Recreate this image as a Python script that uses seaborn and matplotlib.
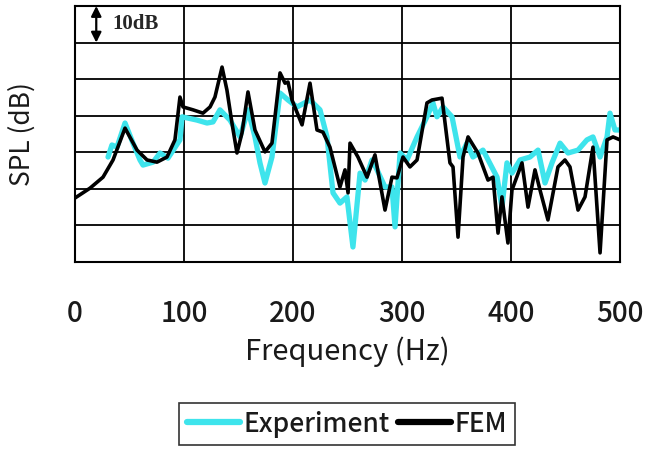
import matplotlib
matplotlib.use("Agg")
import matplotlib.pyplot as plt
import seaborn as sns
import pandas as pd

# Sound pressure level spectra (frequency in Hz, level in dB relative units)
fem_freq = [0, 13.8, 25.7, 34.9, 45.9, 56.9, 66.1, 75.2, 84.4, 91.7, 96.3, 99.1,
            108.3, 117.4, 123.9, 128.4, 134.9, 139.4, 144.0, 148.6, 153.2, 158.7,
            165.1, 174.3, 180.7, 188.1, 192.7, 195.4, 199.1, 208.3, 215.6, 222.0,
            227.5, 233.9, 243.1, 247.7, 250.5, 252.3, 259.6, 267.9, 275.2, 284.4,
            290.8, 295.4, 300.9, 307.3, 313.8, 322.9, 327.5, 336.7, 344.0, 346.8,
            351.4, 356.0, 360.6, 369.7, 378.9, 383.5, 388.1, 391.7, 397.2, 400.9,
            410.1, 415.6, 422.0, 426.6, 433.9, 443.1, 449.5, 454.1, 461.5, 467.9,
            475.2, 481.7, 488.1, 493.6, 500.0]
fem_spl = [17.5, 20.2, 23.2, 27.9, 36.6, 30.6, 27.9, 27.3, 28.7, 33.4, 45.1, 42.4,
           41.6, 40.7, 42.4, 45.1, 53.3, 47.0, 38.0, 29.8, 35.3, 46.5,
           36.1, 30.1, 32.5, 51.7, 48.9, 49.2, 44.3, 37.5, 48.9, 36.1,
           35.5, 31.4, 20.5, 25.2, 18.9, 32.5, 28.7, 23.2, 29.3, 14.2,
           23.2, 23.0, 28.7, 26.0, 27.9, 43.5, 44.3, 44.8, 27.1, 26.0,
           6.8, 28.7, 34.2, 29.8, 22.4, 23.2, 7.9, 17.8, 5.2, 19.7,
           27.1, 15.0, 25.2, 19.7, 11.5, 26.0, 27.9, 26.0, 14.2, 17.8,
           31.4, 2.5, 33.4, 34.2, 33.4]

exp_freq = [30.3, 33.9, 38.5, 45.9, 53.2, 59.6, 62.4, 71.6, 78.0, 85.3, 96.3, 98.2,
            102.8, 111.9, 121.1, 126.6, 133.0, 142.2, 151.4, 158.7, 165.1, 169.7,
            174.3, 180.7, 188.1, 195.4, 203.7, 215.6, 224.8, 231.2, 236.7, 243.1,
            249.5, 255.0, 261.5, 266.1, 272.5, 277.1, 284.4, 290.8, 293.6, 298.2,
            304.6, 313.8, 322.9, 328.4, 332.1, 337.6, 345.9, 353.2, 359.6, 365.1,
            374.3, 387.2, 391.7, 396.3, 400.9, 408.3, 417.4, 424.8, 431.2, 437.6,
            445.0, 452.3, 461.5, 469.7, 475.2, 481.7, 488.1, 490.8, 495.4, 500.0]
exp_spl = [28.7, 32.0, 31.4, 38.0, 32.5, 27.9, 26.5, 27.3, 29.8, 28.4, 33.4, 39.7,
           39.4, 38.8, 38.0, 38.3, 41.6, 38.8, 34.2, 41.6, 34.2, 27.1,
           21.6, 28.7, 46.2, 44.3, 42.4, 44.3, 41.6, 34.2, 18.9, 16.1,
           17.8, 4.1, 24.3, 22.4, 27.9, 25.2, 20.5, 20.5, 9.6, 29.8,
           27.9, 34.2, 39.7, 43.5, 39.7, 42.4, 39.7, 28.7, 32.5, 28.7,
           30.6, 23.2, 15.0, 27.1, 24.3, 27.9, 28.7, 30.6, 21.6, 27.1,
           32.5, 29.8, 30.6, 33.4, 34.2, 28.7, 34.2, 40.7, 36.1, 36.1]

x_ticks = [0, 100, 200, 300, 400, 500]
y_grid = [0, 10, 20, 30, 40, 50, 60, 70]

exp_df = pd.DataFrame({"Frequency": exp_freq, "SPL": exp_spl})
fem_df = pd.DataFrame({"Frequency": fem_freq, "SPL": fem_spl})

sns.set_style("white")
plt.rcParams["font.family"] = ["Noto Sans CJK JP", "DejaVu Sans"]
plt.rcParams["font.weight"] = "medium"

fig = plt.figure(figsize=(6.46, 4.5), dpi=100)
ax = fig.add_axes([75 / 646, 1 - 262 / 450, 545 / 646, 256 / 450])

sns.lineplot(data=exp_df, x="Frequency", y="SPL", ax=ax, color="#3ee4ec",
             linewidth=3.8, sort=False, estimator=None, label="Experiment")
sns.lineplot(data=fem_df, x="Frequency", y="SPL", ax=ax, color="black",
             linewidth=2.6, sort=False, estimator=None, label="FEM")

ax.set_xlim(0, 500)
ax.set_ylim(0, 70)
ax.set_xticks(x_ticks)
ax.set_yticks(y_grid)
ax.set_yticklabels([])
ax.grid(True, color="black", linewidth=1.3)
ax.set_axisbelow(True)
for s in ax.spines.values():
    s.set_color("black")
    s.set_linewidth(1.5)
ax.tick_params(axis="both", length=0)
ax.tick_params(axis="x", pad=27, labelsize=20, colors="#1a1a1a")

ax.set_xlabel("Frequency (Hz)", fontsize=21, color="#1a1a1a")
ax.xaxis.set_label_coords(0.5, -0.29)
ax.set_ylabel("SPL (dB)", fontsize=19, color="#1a1a1a")
ax.yaxis.set_label_coords(-0.072, 0.5)

# 10 dB scale marker
ax.annotate("", xy=(19.5, 70), xytext=(19.5, 60),
            arrowprops=dict(arrowstyle="<|-|>", color="black", lw=1.6,
                            mutation_scale=15, shrinkA=0, shrinkB=0))
ax.text(34, 65, "10dB", fontsize=15, fontweight="bold",
        family="Liberation Serif", va="center", ha="left")

leg = ax.legend(loc="center", bbox_to_anchor=(347 / 646, 1 - 424 / 450),
                bbox_transform=fig.transFigure, ncol=2, frameon=True,
                fancybox=False, edgecolor="black", fontsize=19,
                handlelength=2.0, handletextpad=0.15, columnspacing=0.3,
                borderpad=0.3, borderaxespad=0)
leg.get_frame().set_linewidth(1.2)
for line in leg.get_lines():
    line.set_linewidth(4.5)
for t in leg.get_texts():
    t.set_color("#1a1a1a")

fig.savefig("out.png", dpi=100)
